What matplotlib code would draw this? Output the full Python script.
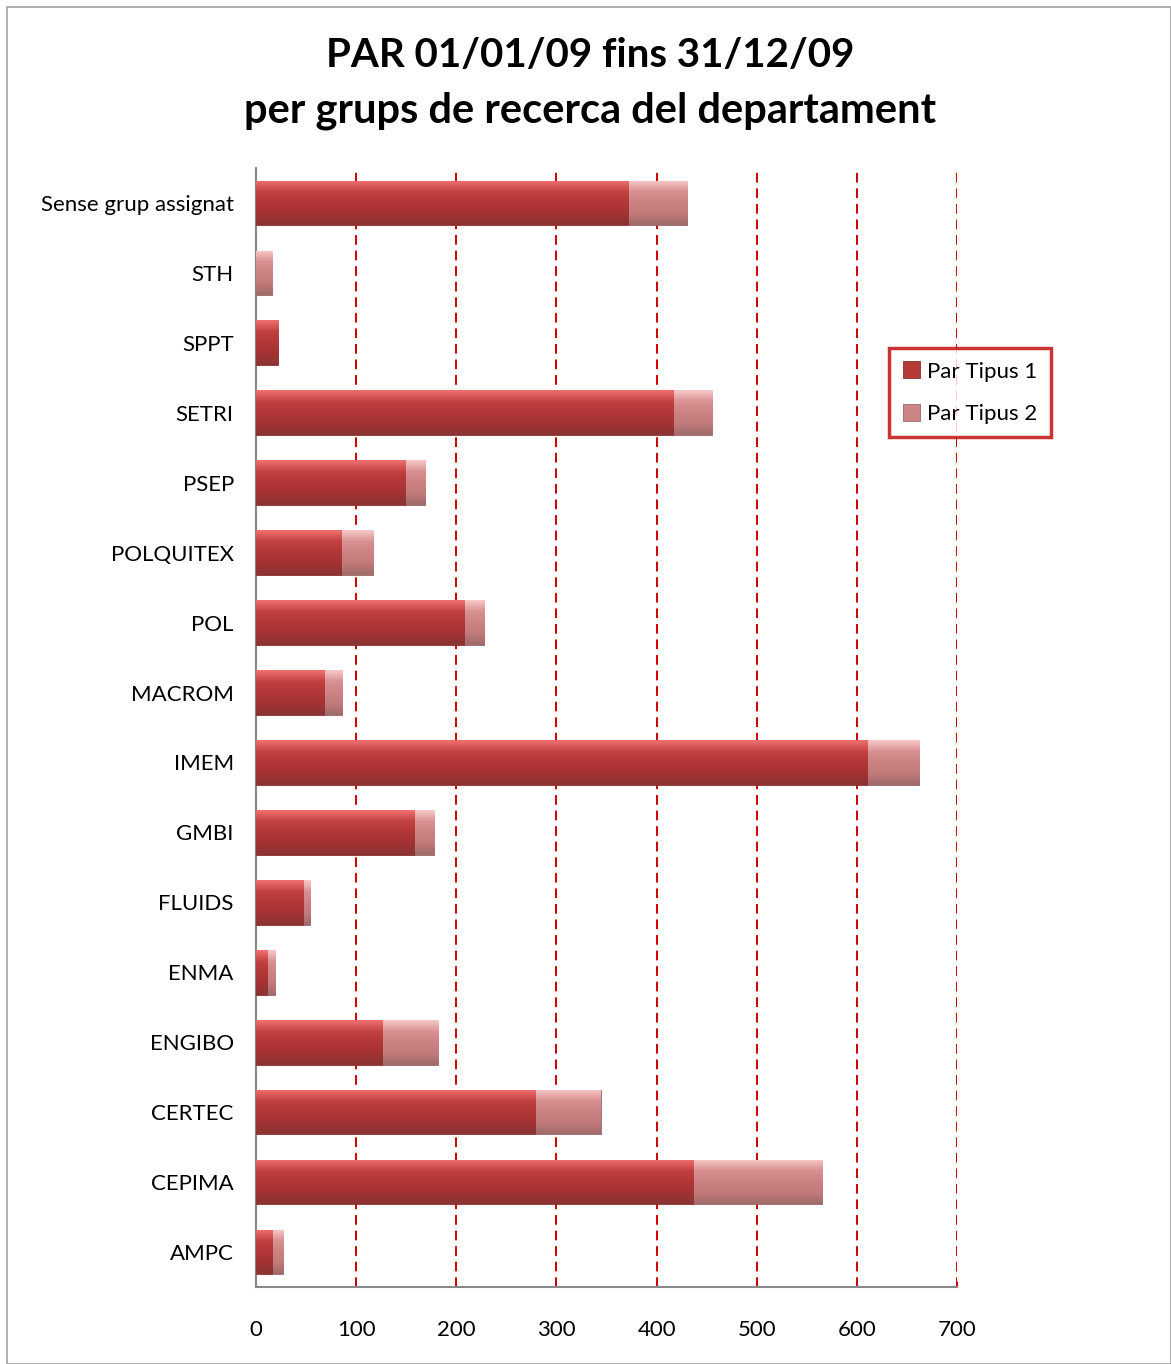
import matplotlib
matplotlib.use("Agg")
import matplotlib.pyplot as plt
import numpy as np
from matplotlib.colors import LinearSegmentedColormap
from matplotlib.patches import Rectangle

categories = ["Sense grup assignat", "STH", "SPPT", "SETRI", "PSEP", "POLQUITEX", "POL",
              "MACROM", "IMEM", "GMBI", "FLUIDS", "ENMA", "ENGIBO", "CERTEC", "CEPIMA", "AMPC"]
tipus1 = [372, 0, 22, 417, 150, 86, 209, 69, 611, 159, 48, 12, 127, 280, 437, 17]
tipus2 = [58, 16, 0, 38, 19, 31, 19, 17, 51, 19, 6, 7, 55, 64, 128, 10]
series_names = ["Par Tipus 1", "Par Tipus 2"]
xticks = [0, 100, 200, 300, 400, 500, 600, 700]

plt.rcParams['font.family'] = ['Lato', 'DejaVu Sans']

fig = plt.figure(figsize=(11.71, 13.64), dpi=100)
fig.patches.append(Rectangle((0.006, 0.0), 0.994, 0.995, transform=fig.transFigure,
                             fill=False, edgecolor='#A0A0A0', linewidth=1.2))
ax = fig.add_axes([0.2186, 0.0565, 0.5987, 0.8203])

n = len(categories)
y = np.arange(n)
h = 0.64

cm1 = LinearSegmentedColormap.from_list('c1', ['#F07070', '#C24040', '#B23737', '#A33232', '#8A3434'])
cm2 = LinearSegmentedColormap.from_list('c2', ['#F8C8C8', '#D89090', '#CC8282', '#C27A7A', '#A06A6A'])

b1 = ax.barh(y, tipus1, height=h, color='#B73A3A', edgecolor='#8A3030', linewidth=0.6,
             label=series_names[0], zorder=3)
b2 = ax.barh(y, tipus2, left=tipus1, height=h, color='#CC8484', edgecolor='#9A6868',
             linewidth=0.6, label=series_names[1], zorder=3)

grad = np.linspace(0, 1, 64).reshape(-1, 1)
for bars, cm in ((b1, cm1), (b2, cm2)):
    for p in bars:
        w = p.get_width()
        if w <= 0:
            continue
        x0, y0 = p.get_x(), p.get_y()
        im = ax.imshow(grad, cmap=cm, aspect='auto', origin='upper',
                       extent=[x0, x0 + w, y0 + p.get_height(), y0], zorder=3.5,
                       interpolation='bicubic')
        im.set_clip_path(p)

ax.set_xlim(0, 700)
ax.set_ylim(n - 0.5, -0.5)
ax.set_xticks(xticks)
ax.set_xticklabels([str(v) for v in xticks], fontsize=16)
ax.set_yticks(y)
ax.set_yticklabels(categories, fontsize=16)
ax.tick_params(axis='y', length=0, pad=16)
ax.tick_params(axis='x', length=4, color='#CC0000', direction='in', pad=24)

for v in xticks[1:]:
    ax.axvline(v, color='#CC0000', linestyle=(0, (5, 3)), linewidth=1.4, zorder=1)

for s in ['top', 'right']:
    ax.spines[s].set_visible(False)
for s in ['left', 'bottom']:
    ax.spines[s].set_color('#888888')
    ax.spines[s].set_linewidth(1.5)

fig.text(0.504, 0.959, "PAR 01/01/09 fins 31/12/09", ha='center', va='center',
         fontsize=29, fontweight='bold')
fig.text(0.504, 0.919, "per grups de recerca del departament", ha='center', va='center',
         fontsize=30, fontweight='bold')

leg = ax.legend(loc='upper left', bbox_to_anchor=(0.750, 0.753), bbox_transform=fig.transFigure,
                fontsize=16, frameon=True, fancybox=False, handlelength=0.8, handleheight=0.8,
                handletextpad=0.3, labelspacing=1.0, borderpad=0.6, borderaxespad=0.5)
leg.get_frame().set_edgecolor('#C00000')
leg.get_frame().set_linewidth(2.5)

fig.savefig("out.png", dpi=100)
